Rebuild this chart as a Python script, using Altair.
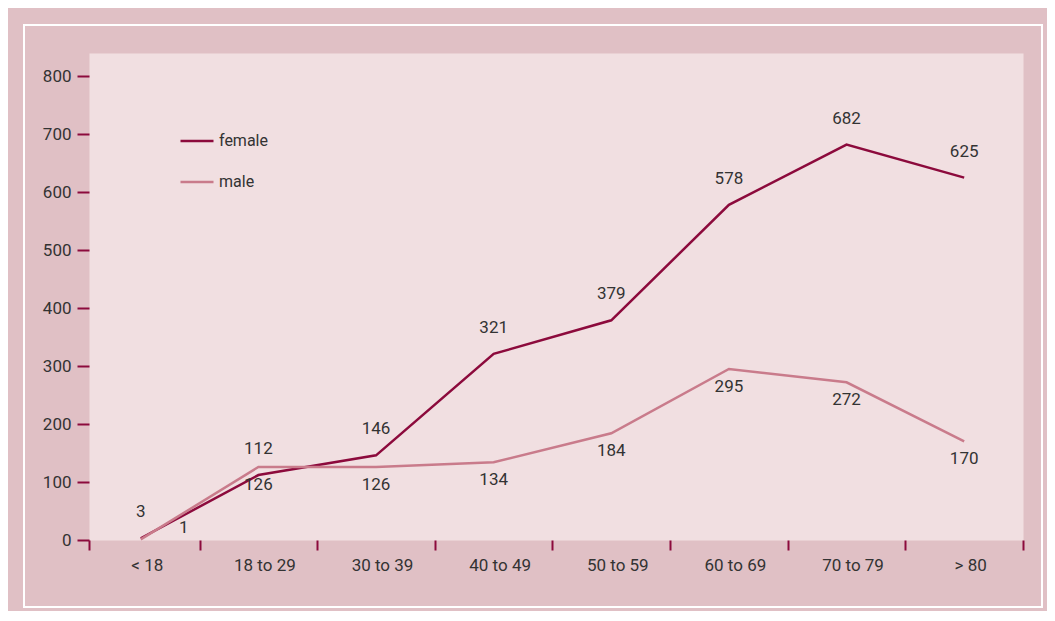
import altair as alt
import pandas as pd

categories = ["< 18", "18 to 29", "30 to 39", "40 to 49", "50 to 59", "60 to 69", "70 to 79", "> 80"]
female = [3, 112, 146, 321, 379, 578, 682, 625]
male = [1, 126, 126, 134, 184, 295, 272, 170]
series = ["female", "male"]
y_ticks = [0, 100, 200, 300, 400, 500, 600, 700, 800]

rows = []
for i, c in enumerate(categories):
    rows.append({"category": c, "idx": i, "pos": i + 0.5, "series": "female", "value": female[i]})
    rows.append({"category": c, "idx": i, "pos": i + 0.5, "series": "male", "value": male[i]})
df = pd.DataFrame(rows)

W, H = 934, 487
DARK = "#8c0a3c"
LIGHT = "#c97b8b"
OUTER = "#e0c0c5"
INNER = "#f1dfe1"
TEXT = "#333333"
FONT = "Roboto"

n = len(categories)
x0 = 0.06
x_values = [x0] + [i * 0.5 for i in range(1, 2 * n + 1)]
label_expr = ("datum.value % 1 === 0.5 ? ["
              + ",".join("'" + c + "'" for c in categories)
              + "][floor(datum.value)] : ''")

x_enc = alt.X(
    "pos:Q",
    scale=alt.Scale(domain=[x0, n], nice=False, zero=False),
    axis=alt.Axis(
        values=x_values,
        labelExpr=label_expr,
        tickOpacity={"condition": {"test": "datum.value % 1 !== 0.5", "value": 1}, "value": 0},
        tickSize=10, tickWidth=2, tickColor=DARK,
        labelPadding=7, labelOffset=6,
        domain=False, grid=False, title=None,
        labelOverlap=False, labelFlush=False, labelBound=False,
        labelFontSize=17, labelFont=FONT, labelColor=TEXT,
    ),
)
y_enc = alt.Y(
    "value:Q",
    scale=alt.Scale(domain=[0, 840], nice=False),
    axis=alt.Axis(
        values=y_ticks,
        tickSize=12, tickWidth=2, tickColor=DARK,
        labelPadding=6, domain=False, grid=False, title=None,
        labelFontSize=17, labelFont=FONT, labelColor=TEXT,
    ),
)
color_enc = alt.Color(
    "series:N",
    scale=alt.Scale(domain=series, range=[DARK, LIGHT]),
    legend=alt.Legend(
        orient="none", legendX=90, legendY=70, title=None,
        symbolType="stroke", symbolSize=1089, symbolStrokeWidth=2.5,
        labelFontSize=16, labelFont=FONT, labelColor=TEXT,
        labelOffset=4, rowPadding=15,
    ),
)

base = alt.Chart(df)

lines = base.mark_line(strokeWidth=2.5).encode(x=x_enc, y=y_enc, color=color_enc)

female_text = base.transform_filter("datum.series === 'female'").mark_text(
    dy=-26, fontSize=17, font=FONT, color=TEXT
).encode(x=x_enc, y=y_enc, text="value:Q")

male_text = base.transform_filter("datum.series === 'male' && datum.idx > 0").mark_text(
    dy=18, fontSize=17, font=FONT, color=TEXT
).encode(x=x_enc, y=y_enc, text="value:Q")

male_first = base.transform_filter("datum.series === 'male' && datum.idx === 0").mark_text(
    dx=43, dy=-11, fontSize=17, font=FONT, color=TEXT
).encode(x=x_enc, y=y_enc, text="value:Q")

border = alt.Chart(pd.DataFrame({"k": [0]})).mark_rect(
    fillOpacity=0, stroke="white", strokeWidth=2, clip=False
).encode(x=alt.value(-65), x2=alt.value(953), y=alt.value(-28), y2=alt.value(554))

chart = alt.layer(border, lines, female_text, male_text, male_first).properties(
    width=W, height=H,
    padding={"left": 81, "top": 45, "right": 24, "bottom": 71},
    autosize=alt.AutoSizeParams(type="none"),
    background=OUTER,
).configure_view(fill=INNER, stroke="transparent")

chart.save("out.html", embed_options={"renderer": "svg", "actions": False})
